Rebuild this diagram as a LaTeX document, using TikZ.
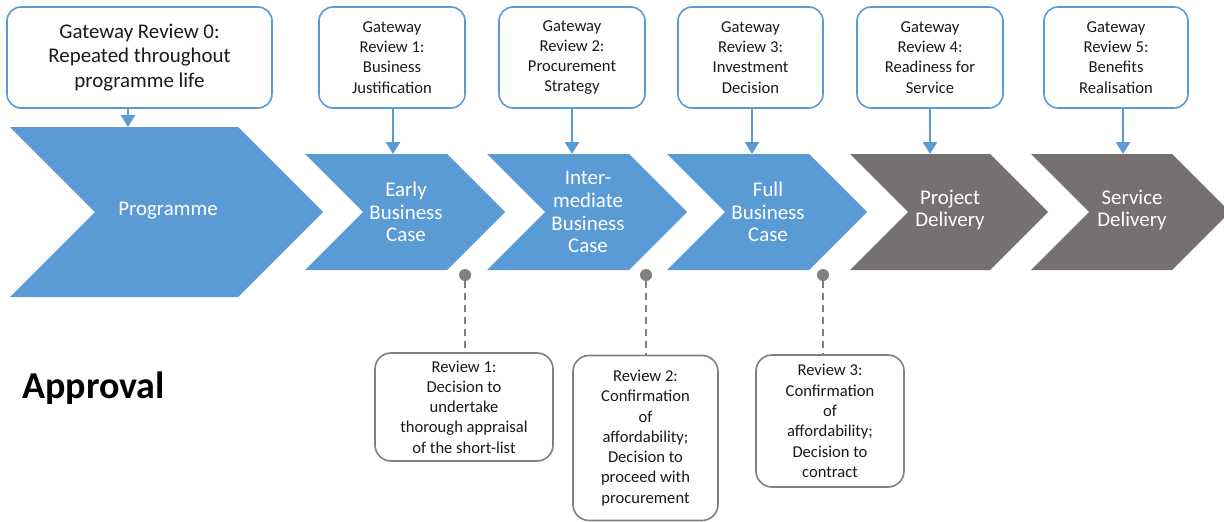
\documentclass[tikz,border=0pt]{standalone}
\usepackage{fontspec}
\setmainfont{Carlito}
\usetikzlibrary{arrows.meta}
\definecolor{cblue}{HTML}{5B9BD5}
\definecolor{cgray}{HTML}{767171}
\definecolor{lgray}{HTML}{808080}
\definecolor{txt}{HTML}{1A1A1A}
\begin{document}
\begin{tikzpicture}[x=1pt,y=-1pt,
  gbox/.style={draw=cblue, line width=1.6pt, rounded corners=14pt, fill=white, align=center, inner sep=0pt, text=txt, font=\fontsize{16.6}{20.3}\selectfont},
  gbigbox/.style={gbox, font=\fontsize{20.9}{24.5}\selectfont},
  rbox/.style={draw=lgray, line width=1.6pt, rounded corners=16pt, fill=white, align=center, inner sep=0pt, text=txt, font=\fontsize{16.6}{20.3}\selectfont},
  chevtxt/.style={align=center, text=white, inner sep=0pt, font=\fontsize{20.9}{22.8}\selectfont},
  garr/.style={draw=cblue, line width=2.8pt, -{Triangle[width=14pt,length=12pt]}},
  dline/.style={draw=lgray, line width=1.8pt, dash pattern=on 7pt off 5pt},
  dotc/.style={circle, fill=lgray, inner sep=0pt, minimum size=12pt}
]
\useasboundingbox (0,0) rectangle (1224,522);
\fill[white] (0,0) rectangle (1224,522);

% chevrons
\fill[cblue] (10,127) -- (238,127) -- (323,212) -- (238,297) -- (10,297) -- (95,212) -- cycle;
\fill[cblue] (305,154) -- (447,154) -- (505,212) -- (447,270) -- (305,270) -- (363,212) -- cycle;
\fill[cblue] (487,154) -- (629,154) -- (687,212) -- (629,270) -- (487,270) -- (545,212) -- cycle;
\fill[cblue] (667,154) -- (809,154) -- (867,212) -- (809,270) -- (667,270) -- (725,212) -- cycle;
\fill[cgray] (850,154) -- (990,154) -- (1048,212) -- (990,270) -- (850,270) -- (908,212) -- cycle;
\fill[cgray] (1031,154) -- (1172,154) -- (1230,212) -- (1172,270) -- (1031,270) -- (1089,212) -- cycle;

\node[chevtxt] (prog) at (168,211) {Programme};
\node[chevtxt] (ebc) at (406,212) {Early\\Business\\Case};
\node[chevtxt] (ibc) at (588,212) {Inter-\\mediate\\Business\\Case};
\node[chevtxt] (fbc) at (768,212) {Full\\Business\\Case};
\node[chevtxt] (pd) at (950,210) {Project\\Delivery};
\node[chevtxt] (sd) at (1132,210) {Service\\Delivery};

% chevron tops
\coordinate (c0) at (128,127);
\coordinate (c1) at (393,154);
\coordinate (c2) at (572,154);
\coordinate (c3) at (752,154);
\coordinate (c4) at (930,154);
\coordinate (c5) at (1123,154);

% gateway boxes
\node[gbigbox, minimum width=265pt, minimum height=101pt] (g0) at (139.5,57.5) {Gateway Review 0:\\Repeated throughout\\programme life};
\node[gbox, minimum width=146pt, minimum height=101pt] (g1) at (392,57.5) {Gateway\\Review 1:\\Business\\Justification};
\node[gbox, minimum width=146pt, minimum height=101pt] (g2) at (572,57.5) {Gateway\\Review 2:\\Procurement\\Strategy};
\node[gbox, minimum width=145pt, minimum height=101pt] (g3) at (750.5,57.5) {Gateway\\Review 3:\\Investment\\Decision};
\node[gbox, minimum width=146pt, minimum height=101pt] (g4) at (930,57.5) {Gateway\\Review 4:\\Readiness for\\Service};
\node[gbox, minimum width=144pt, minimum height=101pt] (g5) at (1116,57.5) {Gateway\\Review 5:\\Benefits\\Realisation};

\draw[garr] (g0.south -| c0) -- (c0);
\draw[garr] (g1.south -| c1) -- (c1);
\draw[garr] (g2.south -| c2) -- (c2);
\draw[garr] (g3.south -| c3) -- (c3);
\draw[garr] (g4.south -| c4) -- (c4);
\draw[garr] (g5.south -| c5) -- (c5);

% review boxes
\node[rbox, minimum width=178pt, minimum height=108pt] (r1) at (464,407) {Review 1:\\Decision to\\undertake\\thorough appraisal\\of the short-list};
\node[rbox, minimum width=145pt, minimum height=165pt] (r2) at (645.5,438) {Review 2:\\Confirmation\\of\\affordability;\\Decision to\\proceed with\\procurement};
\node[rbox, minimum width=148pt, minimum height=132pt] (r3) at (830,421) {Review 3:\\Confirmation\\of\\affordability;\\Decision to\\contract};

\node[dotc] (d1) at (465,275) {};
\node[dotc] (d2) at (646,275) {};
\node[dotc] (d3) at (823,275) {};

\draw[dline] (d1) -- (r1.north -| d1);
\draw[dline] (d2) -- (r2.north -| d2);
\draw[dline] (d3) -- (r3.north -| d3);

\node[anchor=west, inner sep=0pt, text=black, font=\bfseries\fontsize{38}{45}\selectfont] (appr) at (22,388) {Approval};
\end{tikzpicture}
\end{document}
